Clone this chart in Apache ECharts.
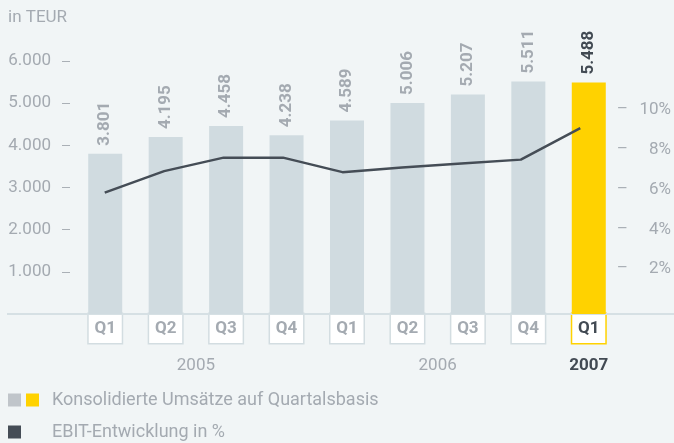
<!DOCTYPE html>
<html>
<head>
    <meta charset="utf-8">
    <title>Umsatz und EBIT</title>
    <script src="https://cdn.jsdelivr.net/npm/echarts@6/dist/echarts.min.js"></script>
    <style>
        html, body { margin: 0; padding: 0; background: #f1f5f6; }
        #chart { width: 674px; height: 443px; }
    </style>
</head>
<body>
<div id="chart"></div>
<script type="text/javascript">
    // Daten
    var quarters = ['Q1', 'Q2', 'Q3', 'Q4', 'Q1', 'Q2', 'Q3', 'Q4', 'Q1'];
    var years = ['2005', '2005', '2005', '2005', '2006', '2006', '2006', '2006', '2007'];
    var umsatz = [3801, 4195, 4458, 4238, 4589, 5006, 5207, 5511, 5488];
    var ebit = [5.85, 6.93, 7.61, 7.61, 6.88, 7.11, 7.31, 7.51, 9.1];
    var leftTicks = [0, 1000, 2000, 3000, 4000, 5000, 6000];
    var rightTicks = [0, 2, 4, 6, 8, 10, 12];

    var nameUmsatz = 'Konsolidierte Umsätze auf Quartalsbasis';
    var nameEbit = 'EBIT-Entwicklung in %';

    var grey = '#a4aab1';
    var dark = '#424a53';
    var barGrey = '#d0dbe0';
    var yellow = '#ffd200';
    var last = umsatz.length - 1;

    function fmt(v) {
        return String(v).replace(/\B(?=(\d{3})+(?!\d))/g, '.');
    }

    // Jahresbeschriftung mittig unter jeder Quartalsgruppe (Halbschritt-Achse)
    var yearSlots = [];
    for (var i = 0; i <= quarters.length * 2; i++) yearSlots.push('');
    var start = 0;
    for (var j = 1; j <= years.length; j++) {
        if (j === years.length || years[j] !== years[start]) {
            yearSlots[start + (j - 1) + 1] = years[start];
            start = j;
        }
    }
    var lastYear = years[last];

    var myChart = echarts.init(document.getElementById('chart'));
    myChart.setOption({
        backgroundColor: '#f1f5f6',
        textStyle: { fontFamily: 'Roboto' },
        title: {
            text: 'in TEUR',
            left: 3,
            top: 4,
            textStyle: { fontSize: 17, fontWeight: 'normal', color: grey }
        },
        legend: {
            orient: 'vertical',
            left: 8,
            top: 391,
            padding: 0,
            itemWidth: 13,
            itemHeight: 13,
            itemGap: 14,
            selectedMode: false,
            data: [
                { name: nameUmsatz, icon: 'rect', itemStyle: { color: '#c0c5ca' } },
                { name: nameEbit, icon: 'rect', itemStyle: { color: '#454d56' } }
            ],
            formatter: function (name) {
                return (name === nameUmsatz ? '{y|}' : '{s|}') + '{g|}{t|' + name + '}';
            },
            textStyle: {
                rich: {
                    y: { width: 13, height: 13, backgroundColor: yellow },
                    s: { width: 13, height: 13 },
                    g: { width: 13 },
                    t: { fontSize: 18, color: grey, lineHeight: 19, fontFamily: 'Roboto' }
                }
            }
        },
        grid: [
            { left: 75, right: 55, top: 61, bottom: 129 },
            { left: 75, right: 55, top: 70.5, bottom: 134.3 }
        ],
        xAxis: [
            {
                type: 'category',
                gridIndex: 0,
                data: quarters,
                axisLine: { show: false },
                axisTick: { show: false },
                axisLabel: {
                    margin: 0,
                    interval: 0,
                    formatter: function (v, idx) {
                        return (idx === last ? '{h|' : '{q|') + v + '}';
                    },
                    rich: {
                        q: {
                            width: 33, height: 29, align: 'center', backgroundColor: '#fff',
                            borderColor: '#d3dde1', borderWidth: 1.5,
                            fontSize: 17, fontWeight: 'bold', color: grey, fontFamily: 'Roboto'
                        },
                        h: {
                            width: 33, height: 29, align: 'center', backgroundColor: '#fff',
                            borderColor: yellow, borderWidth: 1.5,
                            fontSize: 17, fontWeight: 'bold', color: dark, fontFamily: 'Roboto'
                        }
                    }
                }
            },
            {
                type: 'category',
                gridIndex: 0,
                position: 'bottom',
                boundaryGap: false,
                data: yearSlots,
                axisLine: { show: false },
                axisTick: { show: false },
                axisLabel: {
                    margin: 43,
                    interval: 0,
                    formatter: function (v) {
                        if (!v) return '';
                        return v === lastYear ? '{b|' + v + '}' : '{n|' + v + '}';
                    },
                    rich: {
                        n: { fontSize: 17, color: grey, fontFamily: 'Roboto' },
                        b: { fontSize: 17, color: dark, fontWeight: 'bold', fontFamily: 'Roboto' }
                    }
                }
            },
            {
                type: 'category',
                gridIndex: 1,
                data: quarters,
                show: false
            }
        ],
        yAxis: [
            {
                type: 'value',
                gridIndex: 0,
                min: leftTicks[0],
                max: leftTicks[leftTicks.length - 1],
                interval: leftTicks[1] - leftTicks[0],
                offset: 5,
                axisLine: { show: false },
                axisTick: { show: true, length: 8, lineStyle: { color: '#aab0b6', width: 1 } },
                splitLine: { show: false },
                axisLabel: {
                    margin: 19,
                    fontSize: 17,
                    color: grey,
                    formatter: function (v) { return v === 0 ? '' : fmt(v); }
                }
            },
            {
                type: 'value',
                gridIndex: 1,
                position: 'right',
                min: rightTicks[0],
                max: rightTicks[rightTicks.length - 1],
                interval: rightTicks[1] - rightTicks[0],
                axisLine: { show: false },
                axisTick: { show: false },
                splitLine: { show: false },
                axisLabel: {
                    margin: 8,
                    formatter: function (v) {
                        if (v === rightTicks[0] || v === rightTicks[rightTicks.length - 1]) return '';
                        return '{d|–}{v|' + v + '%}';
                    },
                    rich: {
                        d: { fontSize: 17, color: '#aab0b6', width: 10, align: 'right', fontFamily: 'Roboto' },
                        v: { fontSize: 17, color: grey, width: 43, align: 'right', fontFamily: 'Roboto' }
                    }
                }
            }
        ],
        graphic: [
            {
                type: 'line',
                shape: { x1: 7, y1: 314, x2: 674, y2: 314 },
                style: { stroke: '#d6e0e4', lineWidth: 2 },
                z: 1
            }
        ],
        series: [
            {
                name: nameUmsatz,
                type: 'bar',
                xAxisIndex: 0,
                yAxisIndex: 0,
                barWidth: 34,
                itemStyle: { color: barGrey },
                label: {
                    show: true,
                    position: 'top',
                    rotate: 90,
                    align: 'left',
                    verticalAlign: 'middle',
                    distance: 8,
                    fontSize: 17,
                    fontWeight: 'bold',
                    color: grey,
                    formatter: function (p) { return fmt(p.value); }
                },
                data: umsatz.map(function (v, idx) {
                    if (idx !== last) return v;
                    return {
                        value: v,
                        itemStyle: { color: yellow },
                        label: { color: dark, fontWeight: 'bold' }
                    };
                }),
                z: 2
            },
            {
                name: nameEbit,
                type: 'line',
                xAxisIndex: 2,
                yAxisIndex: 1,
                showSymbol: false,
                symbol: 'none',
                itemStyle: { color: '#454d56' },
                lineStyle: { color: '#454d56', width: 2.5 },
                data: ebit,
                z: 3
            }
        ]
    });
</script>
</body>
</html>
